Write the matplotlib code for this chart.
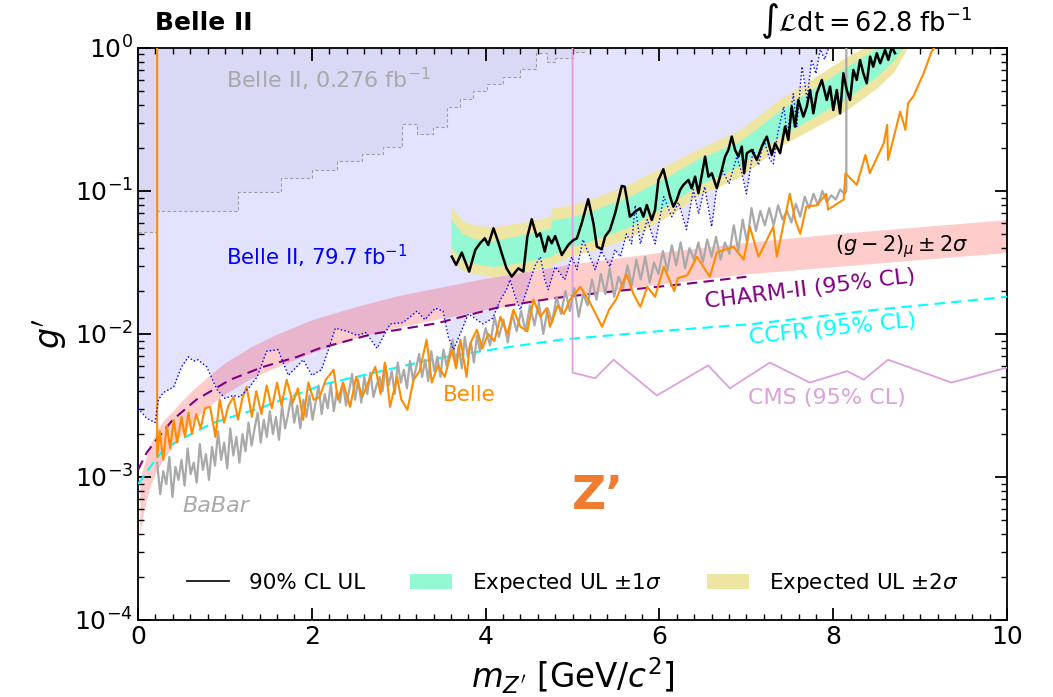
import numpy as np
import matplotlib
matplotlib.use("Agg")
import matplotlib.pyplot as plt
from matplotlib.lines import Line2D
from matplotlib.patches import Patch
from matplotlib.ticker import LogLocator, MultipleLocator, NullFormatter

# ---------------- data (g' values stored as log10) ----------------
# Belle II 62.8 fb^-1 observed 90% CL UL
ul_x = [3.61, 3.66, 3.725, 3.81, 3.88, 3.935, 3.99, 4.03, 4.09, 4.15, 4.185, 4.24, 4.30, 4.376, 4.434,
        4.48, 4.53, 4.588, 4.626, 4.68, 4.72, 4.76, 4.80, 4.876, 4.95, 5.01, 5.05, 5.105, 5.18, 5.24,
        5.28, 5.336, 5.374, 5.43, 5.49, 5.566, 5.60, 5.66, 5.72, 5.777, 5.815, 5.854, 5.911, 5.949,
        5.988, 6.045, 6.084, 6.122, 6.16, 6.199, 6.237, 6.275, 6.333, 6.37, 6.41, 6.448, 6.487, 6.525,
        6.563, 6.602, 6.66, 6.717, 6.755, 6.793, 6.832, 6.87, 6.908, 6.947, 6.974, 7.005, 7.062, 7.12,
        7.177, 7.235, 7.292, 7.33, 7.388, 7.445, 7.483, 7.522, 7.56, 7.598, 7.656, 7.695, 7.733, 7.771,
        7.81, 7.868, 7.925, 7.963, 8.0, 8.04, 8.078, 8.116, 8.155, 8.193, 8.231, 8.27, 8.308, 8.346,
        8.385, 8.424, 8.46, 8.50, 8.54, 8.596, 8.634, 8.673, 8.71]
ul_log = [-1.459, -1.517, -1.431, -1.564, -1.413, -1.366, -1.331, -1.378, -1.261, -1.366, -1.436, -1.541,
          -1.599, -1.541, -1.564, -1.319, -1.198, -1.319, -1.296, -1.424, -1.319, -1.366, -1.315, -1.448,
          -1.378, -1.343, -1.331, -1.226, -1.058, -1.226, -1.389, -1.408, -1.319, -1.273, -1.156, -0.965,
          -0.970, -1.180, -1.145, -1.121, -1.180, -1.098, -1.203, -1.133, -0.923, -0.848, -0.946, -1.040,
          -1.110, -1.063, -0.993, -0.958, -0.923, -0.981, -0.900, -1.016, -0.888, -0.760, -0.900, -0.876,
          -0.981, -0.853, -0.760, -0.713, -0.620, -0.713, -0.760, -0.690, -0.876, -0.736, -0.713, -0.783,
          -0.690, -0.620, -0.748, -0.667, -0.736, -0.550, -0.643, -0.410, -0.550, -0.364, -0.480, -0.410,
          -0.294, -0.457, -0.317, -0.224, -0.364, -0.270, -0.434, -0.294, -0.457, -0.177, -0.294, -0.364,
          -0.154, -0.224, -0.084, -0.177, -0.247, -0.061, -0.131, -0.037, -0.107, -0.014, -0.084, 0.009, -0.037]

# Expected UL bands
band_x = [3.60, 3.725, 3.86, 4.09, 4.40, 4.74, 4.76, 4.97, 5.19, 5.65, 6.16, 6.42, 6.93, 7.38, 8.155, 8.50, 8.70, 8.85]
band_2lo = [-1.47, -1.552, -1.576, -1.60, -1.57, -1.53, -1.52, -1.455, -1.424, -1.33, -1.156, -1.04, -0.90, -0.69, -0.434, -0.28, -0.166, 0.0]
band_1lo = [-1.39, -1.483, -1.506, -1.53, -1.50, -1.46, -1.45, -1.389, -1.354, -1.25, -1.075, -0.97, -0.82, -0.62, -0.352, -0.20, -0.084, 0.05]
band_1hi = [-1.19, -1.296, -1.331, -1.347, -1.31, -1.26, -1.203, -1.184, -1.145, -1.04, -0.876, -0.783, -0.65, -0.44, -0.131, 0.0, 0.1, 0.2]
band_2hi = [-1.11, -1.203, -1.238, -1.254, -1.22, -1.18, -1.121, -1.098, -1.063, -0.95, -0.795, -0.713, -0.57, -0.36, -0.061, 0.05, 0.15, 0.25]

# Belle II 79.7 fb^-1 (blue dotted)
b2_x = [0.0, 0.10, 0.196, 0.234, 0.29, 0.41, 0.50, 0.58, 0.64, 0.69, 0.79, 0.91, 1.0, 1.10, 1.17, 1.27, 1.37,
        1.48, 1.61, 1.73, 1.90, 2.0, 2.11, 2.19, 2.27, 2.40, 2.52, 2.62, 2.75, 2.90, 3.05, 3.21, 3.30, 3.42,
        3.51, 3.57, 3.63, 3.74, 3.80, 3.97, 4.08, 4.17, 4.24, 4.28, 4.34, 4.40, 4.47, 4.57, 4.63, 4.68, 4.72,
        4.80, 4.91, 4.99, 5.05, 5.12, 5.20, 5.26, 5.33, 5.43, 5.49, 5.55, 5.62, 5.68, 5.72, 5.78, 5.86, 5.95,
        6.05, 6.14, 6.22, 6.31, 6.39, 6.45, 6.52, 6.60, 6.66, 6.73, 6.80, 6.89, 6.95, 7.0, 7.08, 7.14, 7.20,
        7.27, 7.31, 7.36, 7.43, 7.47, 7.54, 7.58, 7.64, 7.70, 7.75, 7.80, 7.85, 7.90, 7.96]
b2_log = [-2.52, -2.59, -2.62, -2.46, -2.41, -2.37, -2.23, -2.16, -2.19, -2.18, -2.23, -2.39, -2.45, -2.43,
          -2.44, -2.38, -2.30, -2.12, -2.11, -2.29, -2.18, -2.29, -2.25, -2.11, -1.96, -1.98, -2.01, -1.99,
          -2.10, -1.93, -1.92, -1.84, -1.90, -1.82, -1.84, -2.02, -2.11, -1.95, -1.86, -1.93, -1.89, -1.76,
          -1.69, -1.62, -1.74, -1.83, -1.70, -1.52, -1.46, -1.62, -1.69, -1.53, -1.62, -1.46, -1.55, -1.34,
          -1.46, -1.55, -1.42, -1.53, -1.41, -1.46, -1.30, -1.37, -1.10, -1.37, -1.20, -1.37, -1.04, -1.18,
          -1.08, -1.27, -0.99, -1.16, -0.97, -1.25, -0.97, -0.86, -0.95, -0.76, -0.88, -1.02, -0.71, -0.82,
          -0.64, -0.78, -0.81, -0.60, -0.41, -0.60, -0.32, -0.55, -0.13, -0.36, -0.08, -0.18, -0.01, -0.08, 0.02]

# Belle II 0.276 fb^-1 (steps)
b2old_edges = [0.0, 0.22, 1.15, 1.65, 2.0, 2.29, 2.58, 2.82, 3.04, 3.21, 3.39, 3.55, 3.70, 3.85, 4.02,
               4.20, 4.40, 4.58, 4.71, 4.80, 5.0, 5.15]
b2old_log = [-1.29, -1.14, -1.01, -0.91, -0.85, -0.79, -0.74, -0.69, -0.53, -0.60, -0.55, -0.41, -0.36,
             -0.30, -0.25, -0.20, -0.15, -0.035, -0.10, -0.07, -0.03]

# BaBar (grey): two sampled mass ranges
babar_range1 = (0.22, 3.97)
babar_log1 = [-2.90, -3.12, -2.96, -3.05, -2.86, -3.14, -2.93, -3.02, -2.88,
              -3.06, -2.80, -2.98, -2.90, -3.04, -2.77, -2.95, -2.84, -3.02, -2.79,
              -2.92, -2.68, -2.88, -2.76, -2.94, -2.66, -2.85, -2.72, -2.90, -2.70, -2.82,
              -2.62, -2.78, -2.66, -2.55, -2.76, -2.60, -2.72, -2.54, -2.70, -2.58, -2.74,
              -2.50, -2.66, -2.56, -2.44, -2.62, -2.50, -2.66, -2.46, -2.58, -2.43, -2.60,
              -2.48, -2.36, -2.56, -2.42, -2.52, -2.35, -2.54, -2.40, -2.48, -2.34, -2.50,
              -2.40, -2.28, -2.46, -2.32, -2.48, -2.30, -2.42, -2.27, -2.44, -2.36, -2.30,
              -2.40, -2.22, -2.36, -2.26, -2.42, -2.20, -2.34, -2.25, -2.38, -2.19, -2.32,
              -2.24, -2.14, -2.30, -2.18, -2.33, -2.12, -2.26, -2.16, -2.30, -2.11, -2.22,
              -2.14, -2.04, -2.22, -2.08, -2.24, -2.02, -2.16, -2.06, -2.20, -2.01, -2.12, -2.04]
babar_range2 = (4.00, 8.13)
babar_log2 = [-1.96, -2.08, -1.88, -2.02, -1.90, -2.06, -1.86, -1.98,
              -1.84, -1.98, -1.80, -1.94, -1.78, -2.00, -1.82, -1.92,
              -1.74, -1.86, -1.70, -1.84, -1.68, -1.88, -1.72, -1.80,
              -1.62, -1.76, -1.58, -1.72, -1.54, -1.74, -1.60, -1.68,
              -1.52, -1.66, -1.48, -1.62, -1.46, -1.64, -1.50, -1.58,
              -1.42, -1.56, -1.38, -1.52, -1.36, -1.54, -1.40, -1.48,
              -1.36, -1.50, -1.34, -1.46, -1.32, -1.48, -1.36, -1.44,
              -1.24, -1.42, -1.20, -1.36, -1.12, -1.28, -1.14, -1.24,
              -1.12, -1.24, -1.10, -1.20, -1.14, -1.22, -1.09, -1.18,
              -1.04, -1.12, -1.02, -1.10, -1.00, -1.08, -1.03, -1.06, -0.99, -1.02]
babar_end_x = 8.15
babar_end_log = [-1.0, 0.3]

# Belle (orange)
belle_x = [0.22, 0.22, 0.25, 0.29, 0.33, 0.37, 0.41, 0.45, 0.50, 0.54, 0.58, 0.62, 0.67, 0.72, 0.77, 0.83,
           0.89, 0.94, 0.99, 1.04, 1.10, 1.15, 1.20, 1.25, 1.31, 1.36, 1.42, 1.48, 1.54, 1.60, 1.65, 1.71,
           1.78, 1.84, 1.90, 1.96, 2.02, 2.09, 2.16, 2.25, 2.30, 2.36, 2.44, 2.51, 2.58, 2.66, 2.73, 2.79,
           2.84, 2.90, 2.98, 3.03, 3.10, 3.17, 3.24, 3.32, 3.38, 3.45, 3.53, 3.61, 3.66, 3.71, 3.78, 3.82,
           3.90, 3.96, 4.03, 4.10, 4.17, 4.25, 4.32, 4.40, 4.48, 4.55, 4.63, 4.70, 4.74, 4.83, 4.90, 4.97,
           5.09, 5.20, 5.34, 5.42, 5.50, 5.62, 5.70, 5.78, 5.86, 5.95, 6.05, 6.17, 6.21, 6.32, 6.43, 6.58,
           6.66, 6.85, 6.97, 7.04, 7.14, 7.31, 7.35, 7.50, 7.56, 7.62, 7.69, 7.81, 7.92, 7.94, 8.12, 8.14,
           8.27, 8.37, 8.42, 8.58, 8.62, 8.63, 8.77, 8.83, 8.86, 8.92, 9.04, 9.13, 9.16]
belle_log = [0.0, -2.86, -2.68, -2.88, -2.64, -2.80, -2.60, -2.76, -2.58, -2.72, -2.55, -2.70, -2.56, -2.66,
             -2.52, -2.51, -2.72, -2.46, -2.62, -2.50, -2.44, -2.60, -2.45, -2.37, -2.58, -2.40, -2.56, -2.36,
             -2.52, -2.34, -2.50, -2.32, -2.48, -2.38, -2.60, -2.34, -2.46, -2.44, -2.32, -2.25, -2.46, -2.34,
             -2.51, -2.30, -2.44, -2.32, -2.23, -2.42, -2.20, -2.51, -2.30, -2.46, -2.53, -2.32, -2.26, -2.04,
             -2.34, -2.22, -2.30, -2.11, -2.24, -2.04, -2.30, -2.07, -1.97, -2.10, -2.00, -2.05, -1.88, -2.00,
             -1.83, -1.95, -1.98, -1.76, -1.88, -1.82, -1.95, -1.80, -1.86, -1.76, -1.67, -1.78, -1.95, -1.83,
             -1.76, -1.58, -1.72, -1.81, -1.67, -1.74, -1.53, -1.70, -1.61, -1.59, -1.46, -1.60, -1.43, -1.39,
             -1.48, -1.25, -1.46, -1.25, -1.46, -1.02, -1.20, -1.30, -1.11, -1.10, -1.02, -1.13, -1.06, -0.876,
             -0.958, -0.748, -0.876, -0.667, -0.538, -0.783, -0.445, -0.573, -0.387, -0.340, -0.177, -0.026, 0.0]

# (g-2)_mu +- 2 sigma band
gm2_x = [0.02, 0.06, 0.10, 0.16, 0.22, 0.30, 0.40, 0.50, 0.65, 0.80, 1.0, 1.3, 1.6, 2.0, 2.5, 3.0, 3.5,
         4.0, 5.0, 6.0, 7.0, 8.0, 9.0, 10.0]
gm2_lo = [-3.40, -3.26, -3.15, -3.03, -2.95, -2.87, -2.78, -2.70, -2.60, -2.51, -2.42, -2.31, -2.23, -2.13,
          -2.03, -1.95, -1.89, -1.83, -1.73, -1.65, -1.58, -1.53, -1.48, -1.43]
gm2_hi = [-3.02, -2.93, -2.85, -2.75, -2.67, -2.60, -2.54, -2.47, -2.38, -2.30, -2.20, -2.09, -2.00, -1.90,
          -1.81, -1.73, -1.67, -1.61, -1.51, -1.43, -1.36, -1.30, -1.25, -1.20]

# CHARM-II
charm_x = [0.0, 0.1, 0.21, 0.40, 0.67, 1.06, 1.44, 1.83, 2.09, 2.7, 3.44, 4.17, 4.78, 5.5, 6.3, 7.0]
charm_log = [-2.95, -2.83, -2.74, -2.60, -2.46, -2.32, -2.23, -2.16, -2.10, -2.00, -1.925, -1.81, -1.75, -1.70, -1.65, -1.60]

# CCFR
ccfr_x = [0.0, 0.14, 0.29, 0.48, 0.87, 1.44, 2.15, 3.44, 4.17, 4.86, 6.0, 7.08, 8.5, 10.0]
ccfr_log = [-3.05, -2.93, -2.81, -2.74, -2.62, -2.51, -2.35, -2.17, -2.10, -2.04, -1.98, -1.93, -1.83, -1.74]

# CMS
cms_x = [5.0, 5.0, 5.26, 5.47, 5.97, 6.56, 6.81, 7.27, 7.73, 8.16, 8.35, 8.63, 9.36, 10.03]
cms_log = [0.0, -2.27, -2.31, -2.18, -2.43, -2.22, -2.38, -2.20, -2.34, -2.26, -2.32, -2.18, -2.34, -2.23]


def g(v):
    return 10.0 ** np.asarray(v, dtype=float)


# ---------------- figure ----------------
fig = plt.figure(figsize=(10.53, 6.97), dpi=100)
ax = fig.add_axes([0.1311, 0.1105, 0.8253, 0.8207])

C_LAV = (0.0, 0.0, 1.0, 0.11)
C_GREEN = '#92f9d3'
C_KHAKI = '#efe5a2'

# Belle II 79.7 region
ax.fill_between(b2_x, g(b2_log), 10.0, color=C_LAV, lw=0, zorder=1)
# Belle II 0.276 region
ax.stairs(g(b2old_log), b2old_edges, baseline=10.0, fill=True, color=(0.35, 0.35, 0.45, 0.07), zorder=1.1)
ax.stairs(g(b2old_log), b2old_edges, baseline=None, color='#a0a0a0', lw=0.8, ls=(0, (3, 2)), zorder=1.2)

# (g-2) band
ax.fill_between(gm2_x, g(gm2_lo), g(gm2_hi), color=(1.0, 0.0, 0.0, 0.2), lw=0, zorder=1.5)

# expected bands
ax.fill_between(band_x, g(band_2lo), g(band_2hi), color=C_KHAKI, lw=0, zorder=2)
ax.fill_between(band_x, g(band_1lo), g(band_1hi), color=C_GREEN, lw=0, zorder=2.1)

# lines
ax.plot(charm_x, g(charm_log), color='purple', ls=(0, (5, 3)), lw=1.5, zorder=3)
ax.plot(ccfr_x, g(ccfr_log), color='cyan', ls=(0, (5, 3)), lw=1.5, zorder=3)
ax.plot(cms_x, g(cms_log), color='plum', lw=1.3, zorder=3)

xb1 = np.linspace(babar_range1[0], babar_range1[1], len(babar_log1))
xb2 = np.linspace(babar_range2[0], babar_range2[1], len(babar_log2))
babar_x = np.concatenate([xb1, xb2, [babar_end_x, babar_end_x]])
babar_y = np.concatenate([g(babar_log1), g(babar_log2), g(babar_end_log)])
ax.plot(babar_x, babar_y, color='darkgray', lw=1.6, zorder=3.2)
ax.plot(belle_x, g(belle_log), color='darkorange', lw=1.5, zorder=3.3)

ax.plot(b2_x, g(b2_log), color='blue', ls=':', lw=1.0, zorder=3.5)
ax.plot(ul_x, g(ul_log), color='black', lw=1.8, zorder=4)

# axes setup
ax.set_xlim(0, 10)
ax.set_yscale('log')
ax.set_ylim(1e-4, 1)
ax.xaxis.set_major_locator(MultipleLocator(2))
ax.xaxis.set_minor_locator(MultipleLocator(0.2))
ax.yaxis.set_major_locator(LogLocator(base=10, numticks=10))
ax.yaxis.set_minor_locator(LogLocator(base=10, subs=np.arange(2, 10), numticks=10))
ax.yaxis.set_minor_formatter(NullFormatter())
ax.tick_params(which='both', direction='in', top=True, right=True, labelsize=18)
ax.tick_params(which='major', length=9, width=1.3)
ax.tick_params(which='minor', length=4.5, width=1.0)
for s in ax.spines.values():
    s.set_linewidth(1.3)

ax.set_xlabel(r"$m_{Z'}$ [GeV/$c^2$]", fontsize=23.5, labelpad=5)
ax.set_ylabel(r"$g'$", fontsize=24, labelpad=4)

# texts
fig.text(0.147, 0.967, 'Belle II', fontsize=18, fontweight='bold', va='center', ha='left')
fig.text(0.923, 0.970, r'$\int\mathcal{L}\mathrm{dt} = 62.8\ \mathrm{fb}^{-1}$', fontsize=18.5,
         va='center', ha='right')
ax.text(1.01, g(-0.22), r'Belle II, 0.276 fb$^{-1}$', color='darkgray', fontsize=16, va='center')
ax.text(1.01, g(-1.46), r'Belle II, 79.7 fb$^{-1}$', color='blue', fontsize=15.3, va='center')
ax.text(8.02, g(-1.39), r'$(g-2)_\mu \pm 2\sigma$', color='black', fontsize=15, va='center')
ax.text(7.73, g(-1.69), 'CHARM-II (95% CL)', color='purple', fontsize=16, va='center', ha='center', rotation=7)
ax.text(7.99, g(-1.97), 'CCFR (95% CL)', color='cyan', fontsize=16, va='center', ha='center', rotation=6)
ax.text(7.02, g(-2.45), 'CMS (95% CL)', color='plum', fontsize=16, va='center')
ax.text(3.51, g(-2.43), 'Belle', color='darkorange', fontsize=15.5, va='center')
ax.text(0.51, g(-3.20), 'BaBar', color='darkgray', fontsize=16, va='center', style='italic')
ax.text(5.29, g(-3.14), 'Z\u2019', color='#ee7d31', fontsize=34, fontweight='bold', va='center', ha='center')

handles = [Line2D([], [], color='black', lw=1.2),
           Patch(facecolor=C_GREEN, edgecolor='none'),
           Patch(facecolor=C_KHAKI, edgecolor='none')]
labels = ['90% CL UL', r'Expected UL $\pm 1\sigma$', r'Expected UL $\pm 2\sigma$']
ax.legend(handles, labels, loc='lower center', bbox_to_anchor=(0.5, 0.01), ncol=3, frameon=False,
          fontsize=15.5, columnspacing=2.1, handlelength=1.95, handletextpad=0.93)

fig.savefig('out.png', dpi=100)
